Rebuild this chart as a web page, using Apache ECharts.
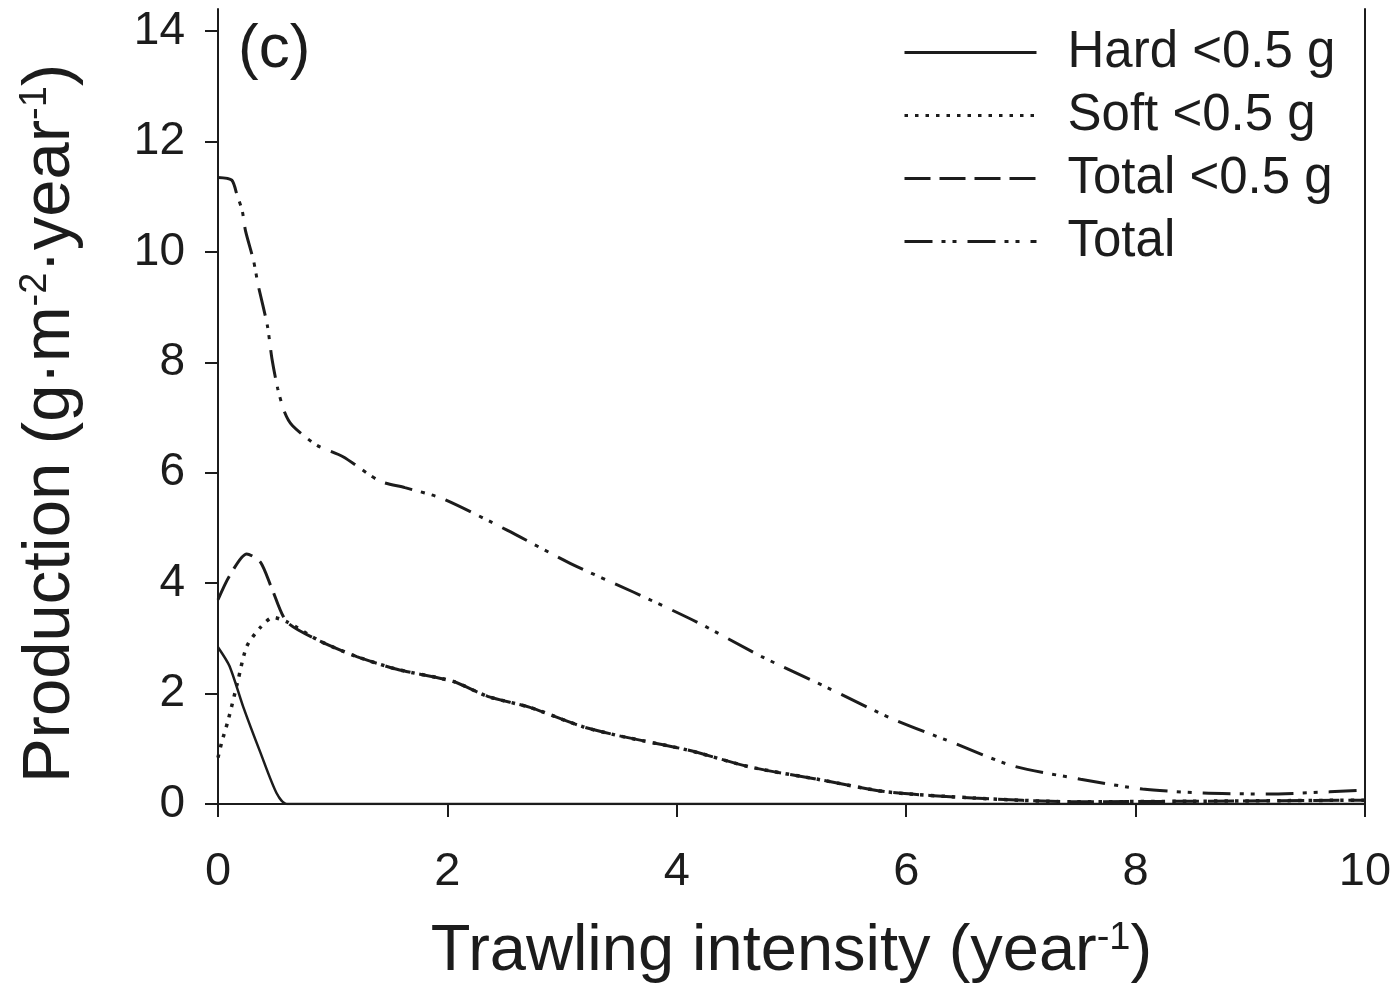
<!DOCTYPE html>
<html>
<head>
<meta charset="utf-8">
<title>Production vs trawling intensity</title>
<script src="https://cdn.jsdelivr.net/npm/echarts@6/dist/echarts.min.js"></script>
<style>
    html, body { margin: 0; padding: 0; background: #fff; }
    #chart { width: 1397px; height: 986px; }
</style>
</head>
<body>
<div id="chart"></div>
<script>
// 数据
const seriesNames = ['Hard <0.5 g', 'Soft <0.5 g', 'Total <0.5 g', 'Total'];

const hardX = [0, 0.1, 0.22, 0.37, 0.51, 0.6, 10];
const hardY = [2.84, 2.5, 1.76, 0.93, 0.2, 0, 0];

const softX = [0, 0.03, 0.09, 0.17, 0.25, 0.37, 0.48, 0.6, 0.89, 1.21, 1.56, 2.05, 2.35, 2.72, 3.18, 3.53, 4.09, 4.64, 5.25, 5.83, 6.58, 7.45, 8.5, 10];
const softY = [0.84, 1.1, 1.53, 2.2, 2.85, 3.2, 3.38, 3.3, 2.95, 2.67, 2.44, 2.22, 1.95, 1.75, 1.4, 1.22, 0.98, 0.67, 0.44, 0.22, 0.11, 0.04, 0.05, 0.07];

const smallX = [0, 0.1, 0.25, 0.37, 0.47, 0.6, 0.89, 1.21, 1.56, 2.05, 2.35, 2.72, 3.18, 3.53, 4.09, 4.64, 5.25, 5.83, 6.58, 7.45, 8.5, 10];
const smallY = [3.7, 4.13, 4.53, 4.38, 3.9, 3.3, 2.95, 2.67, 2.44, 2.22, 1.95, 1.75, 1.4, 1.22, 0.98, 0.67, 0.44, 0.22, 0.11, 0.04, 0.05, 0.07];

const totalX = [0, 0.12, 0.17, 0.21, 0.24, 0.31, 0.35, 0.43, 0.47, 0.52, 0.58, 0.65, 0.86, 1.09, 1.41, 1.63, 1.96, 2.52, 3.07, 3.62, 4.18, 4.74, 5.31, 5.86, 6.41, 6.93, 7.52, 8.06, 8.59, 9.15, 9.69, 10];
const totalY = [11.35, 11.3, 11.0, 10.76, 10.38, 9.84, 9.4, 8.67, 8.07, 7.53, 7.1, 6.85, 6.5, 6.29, 5.85, 5.73, 5.53, 4.96, 4.36, 3.84, 3.29, 2.67, 2.11, 1.56, 1.11, 0.69, 0.45, 0.27, 0.2, 0.18, 0.22, 0.25];

const yTicks = [0, 2, 4, 6, 8, 10, 12, 14];
const xTicks = [0, 2, 4, 6, 8, 10];

const FONT = '"Liberation Sans", Arial, Helvetica, sans-serif';
const INK = '#1c1c1c';

function zip(xs, ys) {
    return xs.map(function (x, i) { return [x, ys[i]]; });
}

function makeLine(name, xs, ys, dash, width) {
    return {
        name: name,
        type: 'line',
        data: zip(xs, ys),
        symbol: 'none',
        showSymbol: false,
        smooth: 0.25,
        lineStyle: { color: INK, width: width, type: dash, cap: 'butt' },
        itemStyle: { color: INK },
        z: 3
    };
}

$init();

function $init() {
    const supStyle = { fontFamily: FONT, fontSize: 38, color: INK, verticalAlign: 'top' };

    let option = {
        animation: false,
        backgroundColor: '#fff',
        grid: { left: 218, right: 32, top: 9, bottom: 182, containLabel: false, outerBoundsMode: 'none' },
        legend: {
            orient: 'vertical',
            left: 898,
            top: 22,
            itemWidth: 132,
            itemHeight: 14,
            itemGap: 12,
            data: seriesNames,
            itemStyle: { color: 'transparent', borderWidth: 0, opacity: 0 },
            lineStyle: { width: 3 },
            textStyle: { fontFamily: FONT, fontSize: 51, color: INK, padding: [0, 0, 0, 26] }
        },
        graphic: [{
            type: 'text',
            left: 238,
            top: 19,
            style: { text: '(c)', fontFamily: FONT, fontSize: 62, fill: INK }
        }],
        xAxis: {
            type: 'value',
            min: 0,
            max: 10,
            interval: 2,
            name: '{a|Trawling intensity (year}{sup|-1}{a|)}',
            nameLocation: 'middle',
            nameGap: 116,
            nameTextStyle: {
                rich: {
                    a: { fontFamily: FONT, fontSize: 65, color: INK },
                    sup: supStyle
                }
            },
            axisLine: { lineStyle: { color: INK, width: 2 } },
            axisTick: { show: true, inside: false, length: 13, lineStyle: { color: INK, width: 2 }, customValues: xTicks },
            axisLabel: { margin: 45, fontFamily: FONT, fontSize: 47, color: INK, customValues: xTicks },
            splitLine: { show: false }
        },
        yAxis: [{
            type: 'value',
            min: 0,
            max: 14.4,
            position: 'left',
            name: '{a|Production (g\u00b7m}{sup|-2}{a|\u00b7year}{sup|-1}{a|)}',
            nameLocation: 'middle',
            nameGap: 134,
            nameTextStyle: {
                padding: [0, 34, 0, 0],
                rich: {
                    a: { fontFamily: FONT, fontSize: 67, color: INK },
                    sup: supStyle
                }
            },
            axisLine: { show: true, lineStyle: { color: INK, width: 2 } },
            axisTick: { show: true, inside: false, length: 13, lineStyle: { color: INK, width: 2 }, customValues: yTicks },
            axisLabel: { margin: 33, fontFamily: FONT, fontSize: 46, color: INK, customValues: yTicks },
            splitLine: { show: false }
        }, {
            type: 'value',
            min: 0,
            max: 14.4,
            position: 'right',
            axisLine: { show: true, lineStyle: { color: INK, width: 2 } },
            axisTick: { show: false },
            axisLabel: { show: false },
            splitLine: { show: false }
        }],
        series: [
            makeLine(seriesNames[0], hardX, hardY, 'solid', 2.5),
            makeLine(seriesNames[1], softX, softY, [3.5, 7], 3.5),
            makeLine(seriesNames[2], smallX, smallY, [26, 9], 3),
            makeLine(seriesNames[3], totalX, totalY, [28, 9, 4, 7, 4, 11], 3)
        ]
    };

    let chart = echarts.init(document.getElementById('chart'));
    chart.setOption(option);

    window.onresize = function () {
        chart.resize();
    };
}
</script>
</body>
</html>
